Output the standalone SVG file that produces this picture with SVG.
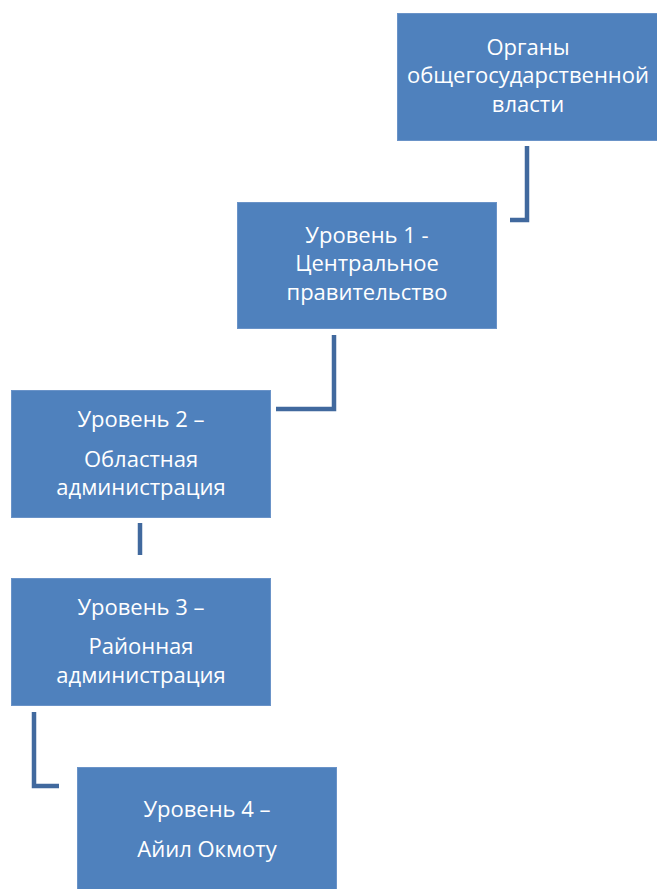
<svg xmlns="http://www.w3.org/2000/svg" width="657" height="889" viewBox="0 0 657 889">
  <style>
    .box { fill: #4f81bd; stroke: #6a93c8; stroke-width: 1; }
    .lbl { font-family: "Open Sans", "Noto Sans", "DejaVu Sans", sans-serif; font-size: 22px; fill: #ffffff; text-anchor: middle; }
    .link { fill: none; stroke: #41699e; stroke-width: 4.5; stroke-linecap: butt; stroke-linejoin: miter; }
  </style>
  <rect width="657" height="889" fill="#ffffff"/>

  <g id="connectors">
    <path class="link" d="M527 146 V220 H510"/>
    <path class="link" d="M334 335 V409 H276"/>
    <path class="link" d="M140 523 V555"/>
    <path class="link" d="M34 712 V786 H59"/>
  </g>

  <g id="node-gov">
    <rect class="box" x="397.5" y="13.5" width="262" height="127"/>
    <text class="lbl" x="528" y="55">Органы</text>
    <text class="lbl" x="528" y="83">общегосударственной</text>
    <text class="lbl" x="528" y="112">власти</text>
  </g>

  <g id="node-level1">
    <rect class="box" x="237.5" y="202.5" width="259" height="126"/>
    <text class="lbl" x="367" y="243">Уровень 1 -</text>
    <text class="lbl" x="367" y="271">Центральное</text>
    <text class="lbl" x="367" y="300">правительство</text>
  </g>

  <g id="node-level2">
    <rect class="box" x="11.5" y="390.5" width="259" height="127"/>
    <text class="lbl" x="141" y="427">Уровень 2 –</text>
    <text class="lbl" x="141" y="467">Областная</text>
    <text class="lbl" x="141" y="495">администрация</text>
  </g>

  <g id="node-level3">
    <rect class="box" x="11.5" y="578.5" width="259" height="127"/>
    <text class="lbl" x="141" y="615">Уровень 3 –</text>
    <text class="lbl" x="141" y="654">Районная</text>
    <text class="lbl" x="141" y="683">администрация</text>
  </g>

  <g id="node-level4">
    <rect class="box" x="77.5" y="767.5" width="259" height="130"/>
    <text class="lbl" x="207" y="817">Уровень 4 –</text>
    <text class="lbl" x="207" y="857">Айил Окмоту</text>
  </g>
</svg>
